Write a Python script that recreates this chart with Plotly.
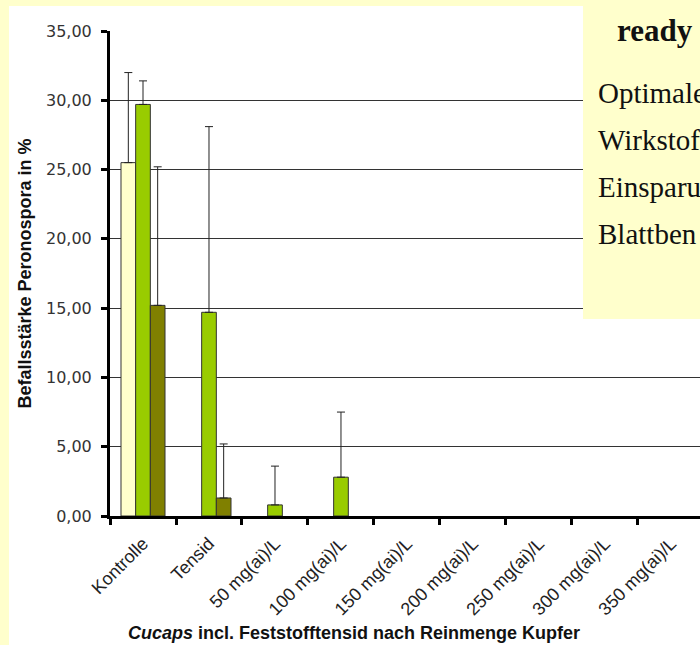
import plotly.graph_objects as go

# Categories along the x axis
categories = ["Kontrolle", "Tensid", "50 mg(ai)/L", "100 mg(ai)/L", "150 mg(ai)/L",
              "200 mg(ai)/L", "250 mg(ai)/L", "300 mg(ai)/L", "350 mg(ai)/L"]

# Infestation severity per series (%)
series1 = [25.5, 0, 0, 0, 0, 0, 0, 0, 0]
series2 = [29.7, 14.7, 0.8, 2.8, 0, 0, 0, 0, 0]
series3 = [15.2, 1.3, 0, 0, 0, 0, 0, 0, 0]

# Upper error (standard deviation)
err1 = [6.5, 0, 0, 0, 0, 0, 0, 0, 0]
err2 = [1.7, 13.4, 2.8, 4.7, 0, 0, 0, 0, 0]
err3 = [10.0, 3.9, 0, 0, 0, 0, 0, 0, 0]

colors = ["#FFFFCC", "#99CC00", "#808000"]

y_ticks = [0, 5, 10, 15, 20, 25, 30, 35]

x_title = "<b><i>Cucaps</i> incl. Feststofftensid nach Reinmenge Kupfer</b>"
y_title = "<b>Befallsstärke Peronospora in %</b>"

side_title = "ready"
side_lines = ["Optimale", "Wirkstof", "Einsparu", "Blattben"]

W, H = 700, 645
L, R, T, B = 110, 0, 31, 129
PW, PH = W - L - R, H - T - B


def px(x):
    return (x - L) / PW


def py(y):
    return (H - B - y) / PH


fig = go.Figure()
for vals, errs, col in zip([series1, series2, series3], [err1, err2, err3], colors):
    # zero-valued bars are left empty, as in the spreadsheet chart
    fig.add_trace(go.Bar(
        x=categories, y=[v if v else None for v in vals],
        marker=dict(color=col, line=dict(color="#333333", width=1)),
        error_y=dict(type="data", array=errs, arrayminus=[0] * len(errs),
                     symmetric=False, color="#222222", thickness=1, width=4),
        showlegend=False,
    ))

fig.update_layout(
    width=W, height=H,
    margin=dict(l=L, r=R, t=T, b=B, pad=0),
    paper_bgcolor="white", plot_bgcolor="rgba(0,0,0,0)",
    barmode="group", bargap=0.333, bargroupgap=0,
    separators=",.",
    font=dict(family="Liberation Sans, Arial", color="#333333"),
)

fig.update_xaxes(
    range=[-0.5, 8.44], tickson="boundaries",
    ticks="outside", ticklen=6, tickwidth=3, tickcolor="black",
    showline=True, linecolor="black", linewidth=3,
    showgrid=False, tickangle=-45,
    tickfont=dict(size=18, family="Liberation Sans, Arial", color="#222222"),
    ticklabelstandoff=7,
    automargin=False,
)

fig.update_yaxes(
    range=[0, 35], tickvals=y_ticks, tickformat=".2f",
    ticks="outside", ticklen=6, tickwidth=3, tickcolor="black",
    showline=True, linecolor="black", linewidth=3,
    showgrid=True, gridcolor="#333333", gridwidth=1,
    zeroline=False,
    tickfont=dict(size=16, family="DejaVu Sans", color="#333333"),
    ticklabelstandoff=6,
    title=dict(text=y_title,
               font=dict(size=18, family="Liberation Sans, Arial", color="#111111"),
               standoff=10),
    automargin=False,
)

# Pale yellow frame strips and the side text box
shapes = [
    dict(type="rect", xref="paper", yref="paper", x0=px(-5), x1=px(9), y0=py(H + 5), y1=py(-5),
         fillcolor="#FFFFCC", line_width=0, layer="above"),
    dict(type="rect", xref="paper", yref="paper", x0=px(-5), x1=px(W + 5), y0=py(6), y1=py(-5),
         fillcolor="#FFFFCC", line_width=0, layer="above"),
    dict(type="rect", xref="paper", yref="paper", x0=px(583), x1=px(W + 5), y0=py(319), y1=py(6),
         fillcolor="#FFFFCC", line_width=0, layer="above"),
]
fig.update_layout(shapes=shapes)

annotations = [
    dict(text=x_title, xref="paper", yref="paper", x=px(354), y=py(633),
         xanchor="center", yanchor="middle", showarrow=False,
         font=dict(family="Liberation Sans, Arial", size=18, color="#111111")),
    dict(text="<b>%s</b>" % side_title, xref="paper", yref="paper", x=px(615), y=py(30),
         xanchor="left", yanchor="middle", showarrow=False,
         font=dict(family="Liberation Serif, Times New Roman", size=31, color="#111111")),
]
for i, line in enumerate(side_lines):
    annotations.append(dict(
        text=line, xref="paper", yref="paper", x=px(596), y=py(93 + 47 * i),
        xanchor="left", yanchor="middle", showarrow=False,
        font=dict(family="Liberation Serif, Times New Roman", size=29, color="#111111")))
fig.update_layout(annotations=annotations)

fig.write_html("out.html")
